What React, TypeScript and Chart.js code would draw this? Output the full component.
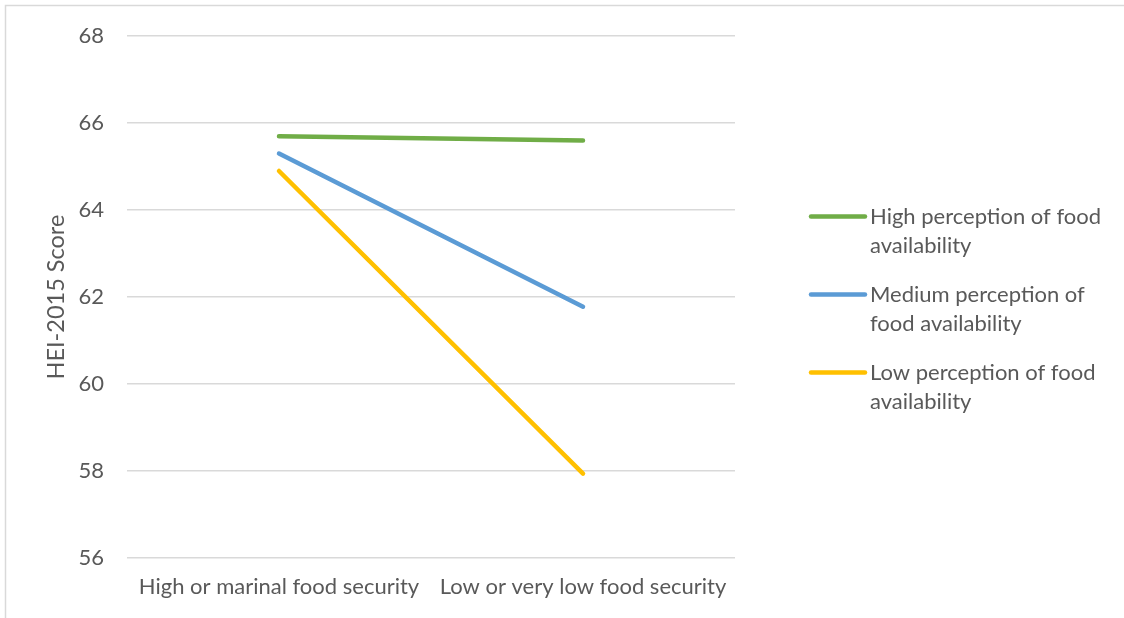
import React, { useEffect, useRef } from "react";
import { Chart, registerables } from "chart.js";

Chart.register(...registerables);

const categories = ["High or marinal food security", "Low or very low food security"];
const seriesNames = [
  "High perception of food availability",
  "Medium perception of food availability",
  "Low perception of food availability",
];
const highPerception = [65.7, 65.6];
const mediumPerception = [65.3, 61.78];
const lowPerception = [64.9, 57.94];
const seriesColors = ["#70AD47", "#5B9BD5", "#FFC000"];
const yMin = 56;
const yMax = 68;
const yStep = 2;
const yTitle = "HEI-2015 Score";

const FONT = "Lato";
const TEXT = "#595959";

const framePlugin = {
  id: "frame",
  beforeDraw(chart: any) {
    const { ctx, width, height } = chart;
    ctx.save();
    ctx.fillStyle = "#ffffff";
    ctx.fillRect(0, 0, width, height);
    ctx.strokeStyle = "#d9d9d9";
    ctx.lineWidth = 1.5;
    ctx.beginPath();
    ctx.moveTo(5.5, height);
    ctx.lineTo(5.5, 5.5);
    ctx.lineTo(width, 5.5);
    ctx.stroke();
    ctx.restore();
  },
};

const legendPlugin = {
  id: "sideLegend",
  afterDraw(chart: any) {
    const { ctx, chartArea } = chart;
    const x0 = chartArea.right + 74;
    const lineLen = 58;
    const textX = x0 + lineLen + 3;
    const startY = 216.5;
    const rowStep = 78;
    const lineH = 29;
    const maxW = 240;
    ctx.save();
    ctx.font = `22px ${FONT}`;
    ctx.textBaseline = "middle";
    ctx.textAlign = "left";
    chart.data.datasets.forEach((ds: any, i: number) => {
      const y = startY + i * rowStep;
      ctx.strokeStyle = ds.borderColor;
      ctx.lineWidth = 4.5;
      ctx.lineCap = "round";
      ctx.beginPath();
      ctx.moveTo(x0 + 2, y);
      ctx.lineTo(x0 + lineLen - 2, y);
      ctx.stroke();
      const words = String(ds.label).split(" ");
      const lines: string[] = [];
      let cur = "";
      words.forEach((w) => {
        const test = cur ? cur + " " + w : w;
        if (ctx.measureText(test).width > maxW && cur) {
          lines.push(cur);
          cur = w;
        } else cur = test;
      });
      if (cur) lines.push(cur);
      ctx.fillStyle = TEXT;
      lines.forEach((l, k) => ctx.fillText(l, textX, y + k * lineH));
    });
    ctx.restore();
  },
};

export default function App() {
  const ref = useRef<HTMLCanvasElement | null>(null);
  useEffect(() => {
    if (!ref.current) return;
    const data = [highPerception, mediumPerception, lowPerception];
    const chart = new Chart(ref.current, {
      type: "line",
      data: {
        labels: categories,
        datasets: seriesNames.map((name, i) => ({
          label: name,
          data: data[i],
          borderColor: seriesColors[i],
          backgroundColor: seriesColors[i],
          borderWidth: 4.5,
          borderCapStyle: "round",
          pointRadius: 0,
          tension: 0,
          fill: false,
        })),
      },
      options: {
        animation: false,
        responsive: true,
        maintainAspectRatio: false,
        layout: { padding: { top: 34, right: 389, bottom: 0, left: 0 } },
        plugins: { legend: { display: false }, tooltip: { enabled: false } },
        scales: {
          x: {
            offset: true,
            grid: { display: false, drawTicks: false },
            border: { display: false },
            ticks: {
              color: TEXT,
              font: { family: FONT, size: 22 },
              padding: 16,
              maxRotation: 0,
              autoSkip: false,
            },
            afterFit(scale: any) {
              scale.height = 60;
            },
          },
          y: {
            min: yMin,
            max: yMax,
            grid: { color: "#d9d9d9", lineWidth: 1.5, drawTicks: false },
            border: { display: false },
            ticks: {
              stepSize: yStep,
              color: TEXT,
              font: { family: FONT, size: 22 },
              padding: 23,
            },
            title: {
              display: true,
              text: yTitle,
              color: TEXT,
              font: { family: FONT, size: 23.5 },
              padding: { top: 42, bottom: 0 },
            },
            afterFit(scale: any) {
              scale.width = 127;
            },
          },
        },
      },
      plugins: [framePlugin, legendPlugin],
    } as any);
    return () => chart.destroy();
  }, []);
  return (
    <div style={{ position: "absolute", left: 0, top: 0, width: 1124, height: 618 }}>
      <canvas ref={ref} />
    </div>
  );
}
